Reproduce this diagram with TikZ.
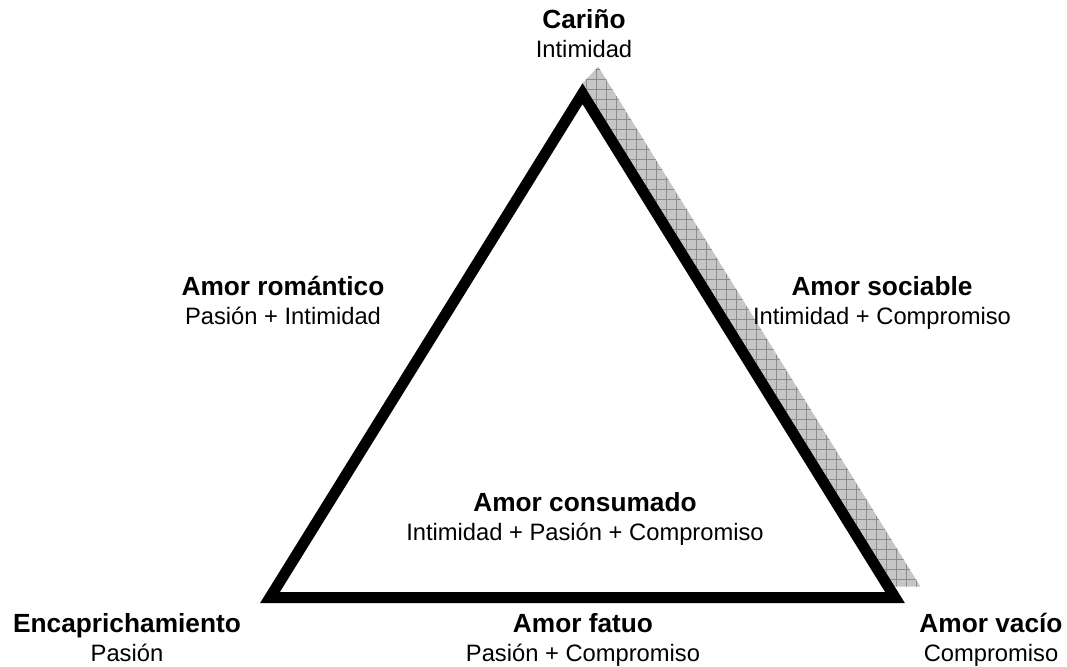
\documentclass[tikz,border=0pt]{standalone}
\usepackage{fontspec}
\setmainfont{Liberation Sans}
\begin{document}
\begin{tikzpicture}[x=0.75pt,y=-0.75pt,
  boldlbl/.style={anchor=base,inner sep=0pt,font=\fontsize{19.7}{23}\selectfont\bfseries},
  sublbl/.style={anchor=base,inner sep=0pt,font=\fontsize{17.8}{21}\selectfont},
  edge/.style={line width=8.25pt,line join=miter,miter limit=10},
  shadowfill/.style={fill={rgb,255:red,198;green,198;blue,198}},
  gridline/.style={draw={rgb,255:red,140;green,140;blue,140},line width=0.75pt}]
\useasboundingbox (0,0) rectangle (1067,667);
% shadow
\coordinate (sA) at (582.3,83.3);
\coordinate (sB) at (598.3,66.7);
\coordinate (sC) at (920.5,586.7);
\coordinate (sD) at (894.9,586.7);
\begin{scope}
  \clip (sA) -- (sB) -- (sC) -- (sD) -- cycle;
  \fill[shadowfill] (570,50) rectangle (930,600);
  \foreach \gx in {576,586,...,930} \draw[gridline] (\gx,50) -- (\gx,600);
  \foreach \gy in {59.3,69.3,...,600} \draw[gridline] (570,\gy) -- (930,\gy);
\end{scope}
% triangle
\coordinate (top) at (582.5,93.7);
\coordinate (bl) at (270,597.5);
\coordinate (br) at (895,597.5);
\draw[edge] (top) -- (br) -- (bl) -- cycle;
% labels
\node[boldlbl] (carino) at (584,29) {Cariño};
\node[sublbl] (carinoS) at (584,58) {Intimidad};
\node[boldlbl] (romantico) at (283,295) {Amor romántico};
\node[sublbl] (romanticoS) at (283,324) {Pasión + Intimidad};
\node[boldlbl] (sociable) at (882,295) {Amor sociable};
\node[sublbl] (sociableS) at (882,324) {Intimidad + Compromiso};
\node[boldlbl] (consumado) at (585,511) {Amor consumado};
\node[sublbl] (consumadoS) at (585,540) {Intimidad + Pasión + Compromiso};
\node[boldlbl] (encap) at (127,632) {Encaprichamiento};
\node[sublbl] (encapS) at (127,661) {Pasión};
\node[boldlbl] (fatuo) at (583,632) {Amor fatuo};
\node[sublbl] (fatuoS) at (583,661) {Pasión + Compromiso};
\node[boldlbl] (vacio) at (991,632) {Amor vacío};
\node[sublbl] (vacioS) at (991,661) {Compromiso};
\end{tikzpicture}
\end{document}
